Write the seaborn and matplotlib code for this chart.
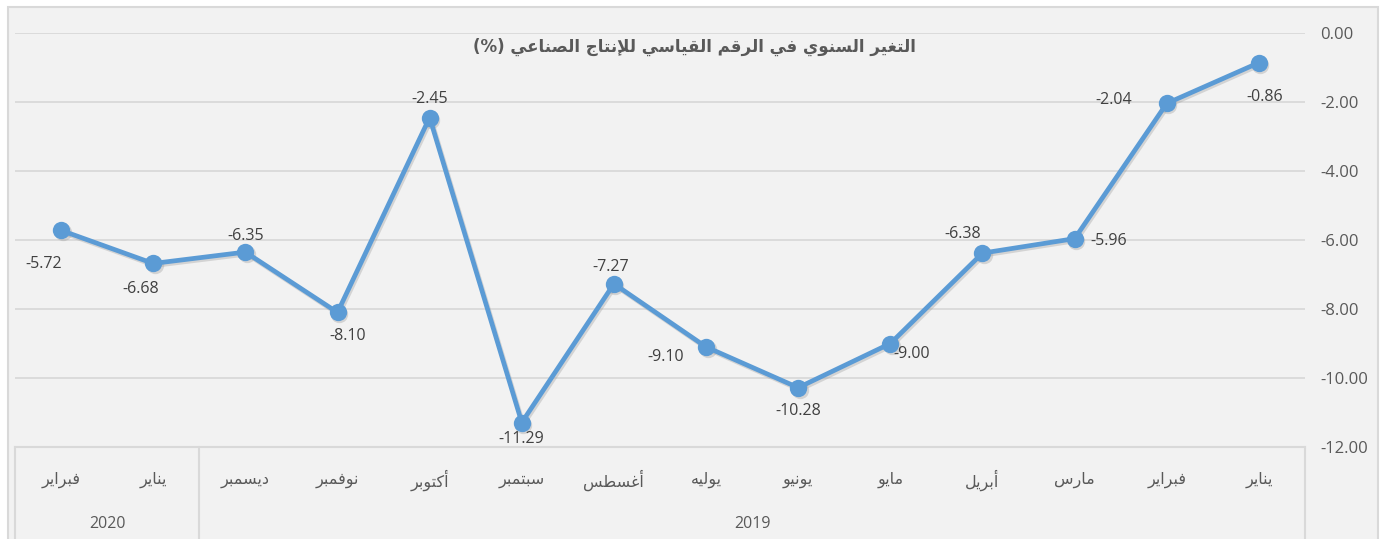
import matplotlib
matplotlib.use("Agg")
import matplotlib.pyplot as plt
from matplotlib.patches import Rectangle
import matplotlib.transforms as mtransforms
import seaborn as sns
import pandas as pd

# ---------------- data ----------------
title = "التغير السنوي في الرقم القياسي للإنتاج الصناعي (%)"
months = ["يناير", "فبراير", "مارس", "أبريل", "مايو", "يونيو", "يوليه",
          "أغسطس", "سبتمبر", "أكتوبر", "نوفمبر", "ديسمبر", "يناير", "فبراير"]
years = ["2019"] * 12 + ["2020"] * 2
values = [-0.86, -2.04, -5.96, -6.38, -9.00, -10.28, -9.10,
          -7.27, -11.29, -2.45, -8.10, -6.35, -6.68, -5.72]
yticks = [0, -2, -4, -6, -8, -10, -12]

# label offsets (pixels) relative to each point
label_offsets = [(6, -34), (-53, 3), (34, -2), (-20, 19), (21, -10), (0, -23), (-40, -10),
                 (-3, 17), (-1, -16), (0, 19), (10, -24), (0, 16), (-13, -26), (-17, -34)]

# ---------------- simple Arabic shaping ----------------
DUAL = {'\u0626': 0xFE89, '\u0628': 0xFE8F, '\u062A': 0xFE95, '\u062B': 0xFE99,
        '\u062C': 0xFE9D, '\u062D': 0xFEA1, '\u062E': 0xFEA5, '\u0633': 0xFEB1,
        '\u0634': 0xFEB5, '\u0635': 0xFEB9, '\u0636': 0xFEBD, '\u0637': 0xFEC1,
        '\u0638': 0xFEC5, '\u0639': 0xFEC9, '\u063A': 0xFECD, '\u0641': 0xFED1,
        '\u0642': 0xFED5, '\u0643': 0xFED9, '\u0644': 0xFEDD, '\u0645': 0xFEE1,
        '\u0646': 0xFEE5, '\u0647': 0xFEE9, '\u064A': 0xFEF1}
RIGHT = {'\u0622': 0xFE81, '\u0623': 0xFE83, '\u0624': 0xFE85, '\u0625': 0xFE87,
         '\u0627': 0xFE8D, '\u0629': 0xFE93, '\u062F': 0xFEA9, '\u0630': 0xFEAB,
         '\u0631': 0xFEAD, '\u0632': 0xFEAF, '\u0648': 0xFEED, '\u0649': 0xFEEF}
LAMALEF = {'\u0622': 0xFEF5, '\u0623': 0xFEF7, '\u0625': 0xFEF9, '\u0627': 0xFEFB}


def shape(s):
    toks = []
    i = 0
    while i < len(s):
        c = s[i]
        if c == '\u0644' and i + 1 < len(s) and s[i + 1] in LAMALEF:
            toks.append(('R', LAMALEF[s[i + 1]]))
            i += 2
            continue
        if c in DUAL:
            toks.append(('D', DUAL[c]))
        elif c in RIGHT:
            toks.append(('R', RIGHT[c]))
        else:
            toks.append(('N', c))
        i += 1
    out = []
    for k, (t, v) in enumerate(toks):
        if t == 'N':
            out.append(v)
            continue
        jp = k > 0 and toks[k - 1][0] == 'D'
        jn = t == 'D' and k + 1 < len(toks) and toks[k + 1][0] in ('D', 'R')
        if t == 'D':
            off = 3 if (jp and jn) else 1 if jp else 2 if jn else 0
        else:
            off = 1 if jp else 0
        out.append(chr(v + off))
    res = ''.join(reversed(out))
    return res.translate(str.maketrans('()', ')('))


# ---------------- style ----------------
sns.set_style("white")
plt.rcParams['font.family'] = ['Open Sans', 'DejaVu Sans']

W, H = 1389, 539
fig = plt.figure(figsize=(W / 100, H / 100), dpi=100, facecolor="white")
fig.patches.append(Rectangle((8 / W, -0.01), (1378 - 8) / W, 1 - 7 / H + 0.01,
                             transform=fig.transFigure, facecolor="#f2f2f2",
                             edgecolor="#d9d9d9", linewidth=1.5, zorder=-10))

left, right, top, bottom = 15, 1305, 33, 447
ax = fig.add_axes([left / W, 1 - bottom / H, (right - left) / W, (bottom - top) / H])
ax.set_facecolor("none")
ax.set_zorder(2)

df = pd.DataFrame({"idx": range(len(values)), "value": values})
# soft shadow
sns.lineplot(data=df, x="idx", y="value", ax=ax, color="#9a9a9a", alpha=0.35, linewidth=3.4,
             marker="o", markersize=12.5, markeredgewidth=0, zorder=4,
             transform=ax.transData + mtransforms.ScaledTranslation(1.5 / 100, -2 / 100, fig.dpi_scale_trans))
sns.lineplot(data=df, x="idx", y="value", ax=ax, color="#5b9bd5", linewidth=3.4,
             marker="o", markersize=12.5, markeredgewidth=0, zorder=5)

ax.set_xlim(len(values) - 0.5, -0.5)
ax.set_ylim(-12, 0)
ax.set_yticks(yticks)
ax.set_yticklabels([f"{t:.2f}" for t in yticks], fontsize=12, color="#595959")
ax.yaxis.tick_right()
ax.tick_params(axis="y", length=0, pad=11)
for lab in ax.get_yticklabels():
    lab.set_horizontalalignment("left")
ax.set_xticks([])
ax.set_xlabel("")
ax.set_ylabel("")
ax.grid(axis="y", color="#d9d9d9", linewidth=1.3)
ax.grid(axis="x", visible=False)
for s in ["top", "left", "right"]:
    ax.spines[s].set_visible(False)
ax.spines["bottom"].set_color("#d9d9d9")
ax.spines["bottom"].set_linewidth(1.5)

# data labels
for i, v in enumerate(values):
    dx, dy = label_offsets[i]
    ax.annotate(f"{v:.2f}", (i, v), xytext=(dx, dy), textcoords="offset pixels",
                ha="center", va="center", fontsize=11.5, color="#404040", zorder=6)

# multi-level category axis
trans = mtransforms.blended_transform_factory(ax.transData, ax.transAxes)
axh = bottom - top
for i, m in enumerate(months):
    ax.text(i, -(480 - bottom) / axh, shape(m), transform=trans, ha="center", va="center",
            fontsize=11.5, color="#595959", family=['DejaVu Sans'])
groups = {}
for i, y in enumerate(years):
    groups.setdefault(y, []).append(i)
for y, idxs in groups.items():
    ax.text(sum(idxs) / len(idxs), -(524 - bottom) / axh, y, transform=trans,
            ha="center", va="center", fontsize=11.5, color="#595959")
# separators
bounds = [-0.5, len(values) - 0.5] + [i - 0.5 for i in range(1, len(years)) if years[i] != years[i - 1]]
for b in bounds:
    ax.plot([b, b], [0, -(H - bottom + 5) / axh], transform=trans, color="#d9d9d9",
            linewidth=1.5, clip_on=False)

# title
fig.text(0.5, 1 - 47 / H, shape(title), ha="center", va="center", fontsize=12,
         fontweight="bold", color="#595959", family=['DejaVu Sans'])

fig.savefig("out.png", dpi=100, facecolor="white")
